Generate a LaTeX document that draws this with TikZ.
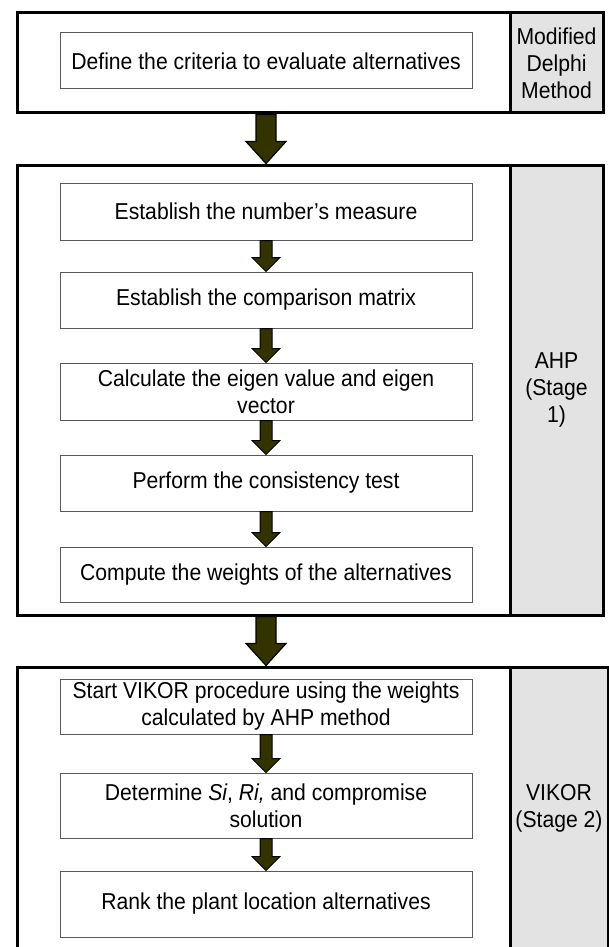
\documentclass[tikz,border=0pt]{standalone}
\usepackage{fontspec}
\setmainfont{Liberation Sans}[FakeStretch=0.92]
\usetikzlibrary{positioning,calc}

\definecolor{arrowolive}{RGB}{51,51,0}
\definecolor{stagegray}{RGB}{227,227,227}

\begin{document}
\begin{tikzpicture}[x=1pt,y=-1pt,
    every node/.style={font=\fontsize{23}{27}\selectfont},
    stage/.style={draw,line width=3pt,inner sep=0pt},
    stagelabel/.style={draw,line width=3pt,fill=stagegray,inner sep=0pt,align=center},
    stepbox/.style={draw=gray!70!black,line width=1pt,minimum width=412pt,inner sep=0pt,align=center},
    bigarrow/.style={draw,line width=1.2pt,fill=arrowolive,line join=miter},
    smallarrow/.style={draw,line width=1pt,fill=arrowolive,line join=miter}]
  \useasboundingbox (0,0) rectangle (609,947);

  % stages
  \node[stage, minimum width=493pt, minimum height=100pt] (delphi) at (263.5,63) {};
  \node[stagelabel, minimum width=93pt, minimum height=100pt] (delphilab) at (556.5,63) {Modified\\Delphi\\Method};
  \node[stage, minimum width=493pt, minimum height=450pt] (ahp) at (263.5,390) {};
  \node[stagelabel, minimum width=93pt, minimum height=450pt] (ahplab) at (556.5,390) {AHP\\(Stage\\1)};
  \node[stage, minimum width=493pt, minimum height=282pt] (vikor) at (263.5,808) {};
  \node[stagelabel, minimum width=98pt, minimum height=282pt] (vikorlab) at (559,808) {VIKOR\\(Stage 2)};

  % criteria
  \node[stepbox, minimum height=56pt] (defn) at (266,61) {Define the criteria to evaluate alternatives};

  % AHP steps
  \node[stepbox, minimum height=57pt] (b1) at (266,211.5) {Establish the number’s measure};
  \node[stepbox, minimum height=56pt, below=31pt of b1] (b2) {Establish the comparison matrix};
  \node[stepbox, minimum height=57pt, below=34pt of b2] (b3) {Calculate the eigen value and eigen\\vector};
  \node[stepbox, minimum height=56pt, below=34pt of b3] (b4) {Perform the consistency test};
  \node[stepbox, minimum height=55pt, below=35pt of b4] (b5) {Compute the weights of the alternatives};

  % VIKOR steps
  \node[stepbox, minimum height=55pt] (b6) at (266,706.5) {Start VIKOR procedure using the weights\\calculated by AHP method};
  \node[stepbox, minimum height=65pt, below=38pt of b6] (b7) {Determine \textit{Si}, \textit{Ri,} and compromise\\solution};
  \node[stepbox, minimum height=66pt, below=32pt of b7] (b8) {Rank the plant location alternatives};

  % arrows between stages
  \foreach \a/\b in {delphi/ahp, ahp/vikor} {
    \draw[bigarrow] let \p1=(\a.south -| b1.south), \p2=(\b.north -| b1.north) in
      (\x1-10pt,\y1) -- (\x1+10pt,\y1) -- (\x1+10pt,\y2+22pt) -- (\x1+20pt,\y2+22pt)
      -- (\x1,\y2) -- (\x1-20pt,\y2+22pt) -- (\x1-10pt,\y2+22pt) -- cycle;
  }

  % arrows between steps
  \foreach \a/\b in {b1/b2, b2/b3, b3/b4, b4/b5, b6/b7, b7/b8} {
    \draw[smallarrow] let \p1=(\a.south), \p2=(\b.north) in
      (\x1-6pt,\y1) -- (\x1+6pt,\y1) -- (\x1+6pt,\y2+14pt) -- (\x1+14pt,\y2+14pt)
      -- (\x1,\y2) -- (\x1-14pt,\y2+14pt) -- (\x1-6pt,\y2+14pt) -- cycle;
  }
\end{tikzpicture}
\end{document}
